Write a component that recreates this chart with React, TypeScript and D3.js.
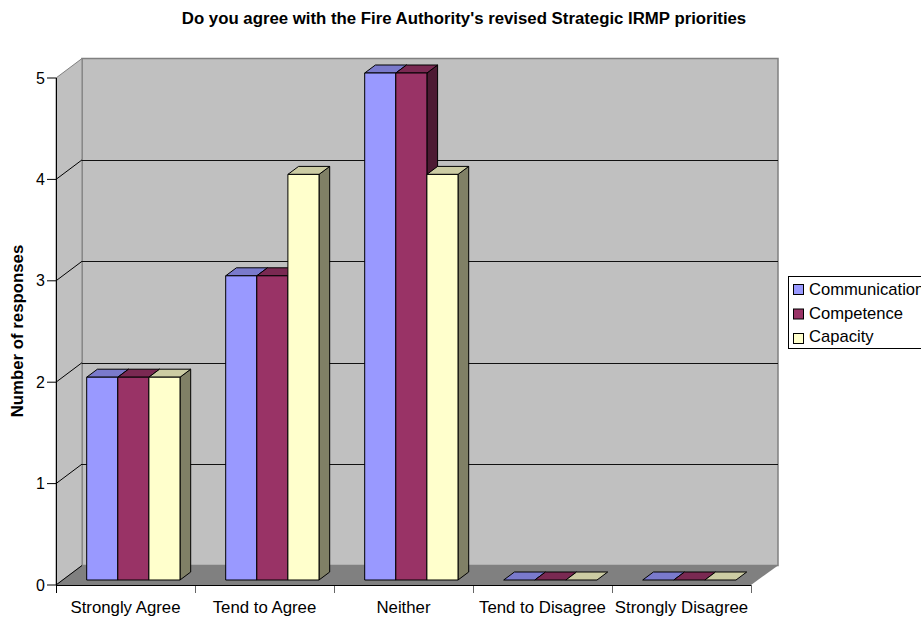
import * as d3 from "d3";

const categories = ["Strongly Agree", "Tend to Agree", "Neither", "Tend to Disagree", "Strongly Disagree"];
const seriesNames = ["Communication", "Competence", "Capacity"];
const communication = [2, 3, 5, 0, 0];
const competence = [2, 3, 5, 0, 0];
const capacity = [2, 4, 4, 0, 0];
const seriesValues = [communication, competence, capacity];
const seriesColors = ["#9999FF", "#993366", "#FFFFCC"];
const yTicks = [0, 1, 2, 3, 4, 5];

const WIDTH = 921;
const HEIGHT = 617;
const FONT = "'Liberation Sans', Arial, sans-serif";

// front plane of the fake 3d box, the back wall sits at an offset from it
const FRONT = { left: 56, right: 751, top: 78, bottom: 585 };
const WALL = { dx: 26, dy: -19.5 };
const BAR_DEPTH = { dx: 10.7, dy: -8 };
const BAR_INSET = { left: 30.7, right: 15, base: 5 };

function shade(color: string, k: number) {
  const c = d3.rgb(color);
  return d3.rgb(c.r * k, c.g * k, c.b * k).formatHex();
}

function pts(list: [number, number][]) {
  return list.map((p) => p.join(",")).join(" ");
}

function App() {
  const xScale = d3.scaleBand().domain(categories).range([FRONT.left, FRONT.right]);
  const yScale = d3.scaleLinear().domain([0, 5]).range([FRONT.bottom, FRONT.top]);
  const seriesScale = d3
    .scaleBand()
    .domain(seriesNames)
    .range([BAR_INSET.left, xScale.bandwidth() - BAR_INSET.right]);
  const barW = seriesScale.bandwidth();
  const backLeft = FRONT.left + WALL.dx;
  const backRight = FRONT.right + WALL.dx + 1;
  const backTop = FRONT.top + WALL.dy;
  const backBottom = FRONT.bottom + WALL.dy;
  const tickXs = [...categories.map((c) => xScale(c) ?? 0), FRONT.right];

  return (
    <svg
      width={WIDTH}
      height={HEIGHT}
      style={{ position: "absolute", left: 0, top: 0 }}
      fontFamily={FONT}
    >
      <rect x={0} y={0} width={WIDTH} height={HEIGHT} fill="#fff" />
      <text x={464} y={24} textAnchor="middle" fontSize={16.8} fontWeight="bold">
        Do you agree with the Fire Authority's revised Strategic IRMP priorities
      </text>

      {/* walls and floor */}
      <rect x={backLeft} y={backTop} width={backRight - backLeft} height={backBottom - backTop} fill="#C0C0C0" stroke="#808080" strokeWidth={1.5} />
      <polygon
        points={pts([[FRONT.left, FRONT.top], [backLeft, backTop], [backLeft, backBottom], [FRONT.left, FRONT.bottom]])}
        fill="#C0C0C0"
        stroke="#808080"
        strokeWidth={1}
      />
      <polygon
        points={pts([[FRONT.left, FRONT.bottom], [backLeft, backBottom], [backRight, backBottom], [FRONT.right, FRONT.bottom]])}
        fill="#808080"
      />

      {/* gridlines, the top one is just the grey wall edge */}
      {yTicks.slice(1, 5).map((t) => (
        <line key={t} x1={backLeft} x2={backRight} y1={Math.round(yScale(t) + WALL.dy) + 0.5} y2={Math.round(yScale(t) + WALL.dy) + 0.5} stroke="#111" />
      ))}
      {yTicks.slice(0, 5).map((t) => (
        <line key={t} x1={FRONT.left} x2={backLeft} y1={yScale(t)} y2={yScale(t) + WALL.dy} stroke="#000" strokeWidth={1} />
      ))}

      {/* bars */}
      {categories.map((cat, i) =>
        seriesNames.map((name, s) => {
          const value = seriesValues[s][i];
          const x0 = (xScale(cat) ?? 0) + (seriesScale(name) ?? 0);
          const x1 = x0 + barW;
          const yBase = yScale(0) - BAR_INSET.base;
          const yTop = yScale(value) - BAR_INSET.base;
          const { dx, dy } = BAR_DEPTH;
          return (
            <g key={cat + name} stroke="#000" strokeWidth={1} strokeLinejoin="round">
              {value > 0 && (
                <polygon
                  points={pts([[x1, yTop], [x1 + dx, yTop + dy], [x1 + dx, yBase + dy], [x1, yBase]])}
                  fill={shade(seriesColors[s], 0.5)}
                />
              )}
              <polygon
                points={pts([[x0, yTop], [x0 + dx, yTop + dy], [x1 + dx, yTop + dy], [x1, yTop]])}
                fill={shade(seriesColors[s], 0.8)}
              />
              {value > 0 && <rect x={x0} y={yTop} width={barW} height={yBase - yTop} fill={seriesColors[s]} />}
            </g>
          );
        })
      )}

      {/* axes */}
      {tickXs.map((x) => (
        <line key={x} x1={x + 0.5} x2={x + 0.5} y1={FRONT.bottom} y2={FRONT.bottom + 8} stroke="#666" />
      ))}
      <line x1={FRONT.left + 0.5} x2={FRONT.left + 0.5} y1={FRONT.top} y2={FRONT.bottom + 8} stroke="#000" />
      <line x1={FRONT.left} x2={FRONT.right} y1={FRONT.bottom + 0.5} y2={FRONT.bottom + 0.5} stroke="#000" />
      {yTicks.map((t) => (
        <g key={t}>
          <line x1={FRONT.left - 9} x2={FRONT.left} y1={yScale(t)} y2={yScale(t)} stroke="#000" />
          <text x={FRONT.left - 11} y={yScale(t) + 5.5} textAnchor="end" fontSize={16}>
            {t}
          </text>
        </g>
      ))}
      {categories.map((cat) => (
        <text key={cat} x={(xScale(cat) ?? 0) + xScale.bandwidth() / 2} y={613} textAnchor="middle" fontSize={16.8}>
          {cat}
        </text>
      ))}
      <text
        transform="translate(23,331) rotate(-90)"
        textAnchor="middle"
        fontSize={16.8}
        fontWeight="bold"
      >
        Number of responses
      </text>

      {/* legend runs off the right edge, same as the original */}
      <rect x={788.5} y={276.5} width={150} height={72} fill="#fff" stroke="#000" />
      {seriesNames.map((name, s) => (
        <g key={name}>
          <rect x={793.5} y={284.5 + s * 24.5} width={10} height={10} fill={seriesColors[s]} stroke="#000" />
          <text x={809} y={295 + s * 23.5} fontSize={16.6}>
            {name}
          </text>
        </g>
      ))}
    </svg>
  );
}

export default App;
